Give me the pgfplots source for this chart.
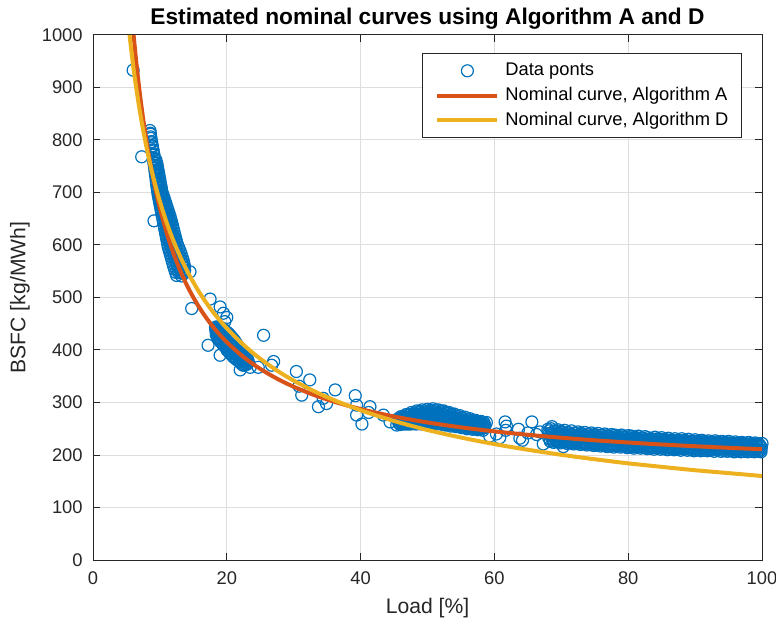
\documentclass[border=0pt]{standalone}
\usepackage{fontspec}
\setmainfont{Liberation Sans}
\usepackage{pgfplots}
\pgfplotsset{compat=1.18}
\definecolor{mblue}{rgb}{0,0.447,0.741}
\definecolor{mred}{rgb}{0.85,0.325,0.098}
\definecolor{myellow}{rgb}{0.929,0.694,0.125}
\definecolor{axgray}{rgb}{0.15,0.15,0.15}
\definecolor{gridgray}{rgb}{0.87,0.87,0.87}
\pgfplotsset{
  linelegend/.style={legend image code/.code={\draw[##1] (0bp,0bp) -- (30bp,0bp);}},
  marklegend/.style={legend image code/.code={\path[draw=none,fill=none] (0bp,-3bp) rectangle (30bp,3bp); \draw[##1] plot coordinates {(15bp,0bp)};}},
}
\begin{document}
\begin{tikzpicture}
\useasboundingbox (-46.5bp,-33.5bp) rectangle (341.5bp,280bp);
\begin{axis}[
  at={(0bp,0bp)}, anchor=south west,
  width=334.5bp, height=262.5bp, scale only axis,
  xmin=0, xmax=100, ymin=0, ymax=1000,
  xtick={0,20,...,100}, ytick={0,100,...,1000},
  grid=major, major grid style={draw=gridgray, line width=0.5bp},
  axis line style={draw=axgray, line width=0.5bp},
  tick style={draw=axgray, line width=0.5bp},
  tick align=inside, major tick length=3.35bp,
  /pgf/number format/assume math mode=true,
  /pgf/number format/1000 sep={},
  ticklabel style={font=\fontsize{9.2}{11}\selectfont, text=axgray},
  xticklabel style={anchor=base, yshift=-12bp},
  yticklabel style={anchor=east, inner sep=0pt, xshift=-5bp},
  every axis title/.style={at={(axis description cs:0.5,1.02)}, anchor=base, font=\fontsize{11.4}{13}\selectfont\bfseries},
  title={Estimated nominal curves using Algorithm A and D},
  every axis x label/.style={at={(axis description cs:0.5,-0.1019)}, anchor=base, font=\fontsize{10.6}{12}\selectfont, text=axgray},
  every axis y label/.style={at={(axis description cs:-0.1009,0.5)}, rotate=90, anchor=base, font=\fontsize{10.6}{12}\selectfont, text=axgray},
  xlabel={Load [\%]},
  ylabel={BSFC [kg/MWh]},
  clip=false, clip marker paths=true,
  legend cell align=left,
  legend style={
    at={(axis description cs:0.9701,0.9657)}, anchor=north east,
    draw=axgray, line width=0.5bp, fill=white,
    font=\fontsize{9.2}{11}\selectfont,
    inner xsep=6.5bp, inner ysep=4.15bp,
    row sep=3.35bp,
    nodes={inner sep=0pt, text height=7bp, text depth=2bp},
    /tikz/every odd column/.append style={column sep=3bp},
  },
]
\addplot[only marks, mark=o, mark size=3bp, color=mblue, mark options={line width=0.6bp}, marklegend]
coordinates {
(6.0,933) (7.28,768) (9.12,646) (14.5,549) (14.75,479) (17.5,497) (19.0,482) (19.5,470) (20.0,462) (19.7,454)
(17.2,409) (19.0,390) (25.5,428) (27.0,378) (26.7,371) (24.7,367) (23.5,367) (22.0,362) (30.4,359) (32.4,343)
(30.8,331) (31.2,314) (33.7,292) (34.9,298) (34.4,308) (36.2,324) (39.2,313) (39.4,295) (39.4,276) (40.2,259)
(41.4,292) (41.2,281) (43.4,276) (44.4,263) (45.4,257)
(58.8,262) (59.3,236) (60.3,240) (60.8,233) (61.6,263) (61.8,255) (61.7,247) (63.6,249) (63.8,232) (64.2,228)
(65.0,242) (65.6,263) (66.3,239) (66.8,244) (67.3,221) (70.3,216) (68.6,254)
(8.51,818) (8.56,813) (8.59,811) (8.62,806) (8.67,803) (8.74,797) (8.77,795) (8.85,789) (8.88,787) (8.96,781)
(9.00,779) (9.07,773) (9.11,771) (9.18,765) (9.22,763) (9.30,757) (9.33,755) (9.40,749) (9.43,747) (9.50,741)
(9.53,739) (9.60,733) (9.63,731) (9.70,725) (9.72,723) (9.79,717) (9.82,715) (9.89,709) (9.92,707) (9.99,701)
(10.03,699) (10.13,693) (10.19,691) (10.30,685) (10.36,683) (10.46,677) (10.52,675) (10.62,669) (10.68,667) (10.79,661)
(10.85,659) (10.95,653) (11.01,651) (11.10,645) (11.15,643) (11.24,637) (11.29,635) (11.38,629) (11.43,627) (11.52,621)
(11.57,619) (11.66,613) (11.71,611) (11.80,605) (11.85,603) (11.96,597) (12.05,595) (12.18,589) (12.27,587) (12.39,581)
(12.48,579) (12.61,573) (12.70,571) (12.82,565) (12.91,563) (13.02,557) (13.06,555) (13.13,549) (13.16,547) (13.23,541)
(9.08,758) (9.15,752) (9.22,746) (9.27,740) (9.33,734) (9.40,728) (9.45,722) (9.51,716) (9.57,710) (9.64,704)
(9.70,698) (9.79,692) (9.88,686) (9.97,680) (10.06,674) (10.15,668) (10.25,662) (10.34,656) (10.43,650) (10.52,644)
(10.62,638) (10.70,632) (10.80,626) (10.88,620) (10.98,614) (11.07,608) (11.16,602) (11.25,596) (11.38,590) (11.52,584)
(11.65,578) (11.78,572) (11.91,566) (12.04,560) (12.20,554) (12.34,548) (12.50,542)
(9.40,762) (9.53,756) (9.62,750) (9.71,744) (9.79,738) (9.88,732) (9.97,726) (10.05,720) (10.13,714) (10.22,708)
(10.30,702) (10.45,696) (10.62,690) (10.77,684) (10.92,678) (11.07,672) (11.23,666) (11.38,660) (11.53,654) (11.66,648)
(11.78,642) (11.90,636) (12.02,630) (12.14,624) (12.26,618) (12.37,612) (12.50,606) (12.65,600) (12.84,594) (13.04,588)
(13.20,582) (13.35,576) (13.50,570) (13.60,564) (13.70,558) (13.70,552) (13.60,546)
(9.90,697) (10.00,691) (10.12,685) (10.22,679) (10.33,673) (10.43,667) (10.55,661) (10.65,655) (10.76,649) (10.86,643)
(10.96,637) (11.05,631) (11.15,625) (11.25,619) (11.35,613) (11.44,607) (11.54,601) (11.68,595) (11.82,589) (11.97,583)
(12.12,577) (12.27,571) (12.42,565) (12.58,559) (12.70,553) (12.82,547)
(10.22,697) (10.36,691) (10.50,685) (10.64,679) (10.78,673) (10.91,667) (11.06,661) (11.19,655) (11.32,649) (11.43,643)
(11.55,637) (11.65,631) (11.77,625) (11.88,619) (11.99,613) (12.10,607) (12.22,601) (12.39,595) (12.56,589) (12.75,583)
(12.92,577) (13.10,571) (13.27,565) (13.42,559) (13.50,553) (13.52,547)
(18.3,443) (18.5,444) (18.7,443) (18.9,443) (19.1,442) (19.3,441) (19.5,440) (19.7,437) (19.9,435) (20.1,433)
(20.3,431) (20.5,428) (20.7,425) (20.9,422) (21.1,419) (21.3,415) (21.5,411) (21.7,408) (21.9,405) (22.1,401)
(22.3,397) (22.5,394) (22.7,389) (22.9,386) (23.1,382)
(18.37,437) (18.57,433) (18.77,434) (18.97,429) (19.17,430) (19.37,425) (19.57,426) (19.77,420) (19.97,420) (20.17,414)
(20.37,414) (20.57,408) (20.77,409) (20.97,402) (21.17,403) (21.37,397) (21.57,398) (21.77,392) (21.97,392) (22.17,387)
(22.37,387) (22.57,382) (22.77,383) (22.97,379) (23.17,380)
(18.43,429) (18.63,423) (18.83,421) (19.03,416) (19.23,414) (19.43,410) (19.63,408) (19.83,405) (20.03,400) (20.23,398)
(20.43,394) (20.63,393) (20.83,389) (21.03,386) (21.23,385) (21.43,382) (21.63,381) (21.83,379) (22.03,377) (22.23,373)
(22.43,371) (22.63,371) (22.83,372) (23.03,373) (23.23,376)
(18.4,439) (18.8,437) (19.2,435) (19.6,430) (20.0,426) (20.4,420) (20.8,414) (21.2,409) (21.6,402) (22.0,396) (22.4,390) (22.8,385)
(18.45,432) (18.85,423) (19.25,419) (19.65,414) (20.05,409) (20.45,402) (20.85,397) (21.25,393) (21.65,388) (22.05,384) (22.45,379) (22.85,378)
(45.6,269) (46.0,273) (46.4,274) (46.8,277) (47.2,277) (47.6,281) (48.0,280) (48.4,284) (48.8,283) (49.2,286)
(49.6,284) (50.0,287) (50.4,285) (50.8,288) (51.2,285) (51.6,286) (52.0,284) (52.4,284) (52.8,281) (53.2,281)
(53.6,278) (54.0,278) (54.4,274) (54.8,275) (55.2,271) (55.6,272) (56.0,268) (56.4,269) (56.8,266) (57.2,266)
(57.6,263) (58.0,264) (58.4,261)
(45.65,268) (46.05,269) (46.45,272) (46.85,272) (47.25,276) (47.65,275) (48.05,278) (48.45,278) (48.85,281) (49.25,280)
(49.65,282) (50.05,281) (50.45,283) (50.85,281) (51.25,282) (51.65,280) (52.05,282) (52.45,278) (52.85,279) (53.25,275)
(53.65,276) (54.05,272) (54.45,273) (54.85,269) (55.25,270) (55.65,266) (56.05,267) (56.45,264) (56.85,265) (57.25,262)
(57.65,263) (58.05,260) (58.45,261)
(45.8,266) (46.2,268) (46.6,270) (47.0,271) (47.4,273) (47.8,273) (48.2,275) (48.6,275) (49.0,277) (49.4,276)
(49.8,278) (50.2,277) (50.6,278) (51.0,276) (51.4,278) (51.8,276) (52.2,276) (52.6,274) (53.0,273) (53.4,272)
(53.8,270) (54.2,269) (54.6,267) (55.0,266) (55.4,264) (55.8,264) (56.2,262) (56.6,261) (57.0,260) (57.4,260)
(57.8,258) (58.2,258) (58.6,256)
(45.75,264) (46.15,266) (46.55,267) (46.95,268) (47.35,269) (47.75,270) (48.15,270) (48.55,271) (48.95,272) (49.35,272)
(49.75,273) (50.15,273) (50.55,273) (50.95,273) (51.35,273) (51.75,272) (52.15,272) (52.55,270) (52.95,269) (53.35,268)
(53.75,267) (54.15,266) (54.55,264) (54.95,263) (55.35,262) (55.75,261) (56.15,260) (56.55,259) (56.95,258) (57.35,257)
(57.75,256) (58.15,256) (58.55,255)
(45.7,261) (46.1,262) (46.5,264) (46.9,264) (47.3,266) (47.7,265) (48.1,267) (48.5,266) (48.9,268) (49.3,267)
(49.7,269) (50.1,268) (50.5,269) (50.9,268) (51.3,269) (51.7,267) (52.1,268) (52.5,266) (52.9,265) (53.3,264)
(53.7,263) (54.1,262) (54.5,261) (54.9,260) (55.3,259) (55.7,258) (56.1,257) (56.5,257) (56.9,255) (57.3,256)
(57.7,254) (58.1,254) (58.5,252)
(45.85,260) (46.25,261) (46.65,261) (47.05,262) (47.45,262) (47.85,262) (48.25,263) (48.65,263) (49.05,263) (49.45,264)
(49.85,264) (50.25,264) (50.65,264) (51.05,264) (51.45,264) (51.85,263) (52.25,262) (52.65,261) (53.05,260) (53.45,259)
(53.85,258) (54.25,257) (54.65,256) (55.05,255) (55.45,254) (55.85,254) (56.25,253) (56.65,253) (57.05,252) (57.45,252)
(57.85,251) (58.25,251)
(45.9,258) (46.3,259) (46.7,259) (47.1,259) (47.5,259) (47.9,260) (48.3,259) (48.7,260) (49.1,259) (49.5,260)
(49.9,260) (50.3,261) (50.7,259) (51.1,261) (51.5,259) (51.9,260) (52.3,258) (52.7,257) (53.1,257) (53.5,255)
(53.9,256) (54.3,254) (54.7,254) (55.1,252) (55.5,252) (55.9,250) (56.3,251) (56.7,249) (57.1,250) (57.5,248)
(57.9,249) (58.3,247)
(68.0,249) (68.5,250) (69.0,246) (69.5,248) (70.0,245) (70.5,247) (71.0,243) (71.5,246) (72.0,242) (72.5,244)
(73.0,241) (73.5,243) (74.0,240) (74.5,242) (75.0,239) (75.5,241) (76.0,238) (76.5,240) (77.0,237) (77.5,239)
(78.0,238) (78.5,236) (79.0,238) (79.5,235) (80.0,237) (80.5,236) (81.0,234) (81.5,236) (82.0,233) (82.5,235)
(83.0,233) (83.5,231) (84.0,234) (84.5,231) (85.0,233) (85.5,230) (86.0,232) (86.5,229) (87.0,231) (87.5,228)
(88.0,231) (88.5,228) (89.0,230) (89.5,227) (90.0,229) (90.5,226) (91.0,228) (91.5,226) (92.0,227) (92.5,225)
(93.0,227) (93.5,224) (94.0,226) (94.5,224) (95.0,226) (95.5,223) (96.0,225) (96.5,223) (97.0,224) (97.5,222)
(98.0,224) (98.5,222) (99.0,223) (99.5,221) (100.0,222)
(68.15,246) (68.65,243) (69.15,244) (69.65,242) (70.15,243) (70.65,240) (71.15,242) (71.65,239) (72.15,241) (72.65,238)
(73.15,240) (73.65,237) (74.15,239) (74.65,236) (75.15,238) (75.65,235) (76.15,237) (76.65,234) (77.15,236) (77.65,233)
(78.15,235) (78.65,232) (79.15,234) (79.65,231) (80.15,233) (80.65,231) (81.15,232) (81.65,230) (82.15,231) (82.65,229)
(83.15,230) (83.65,228) (84.15,230) (84.65,227) (85.15,229) (85.65,227) (86.15,228) (86.65,226) (87.15,227) (87.65,225)
(88.15,227) (88.65,225) (89.15,226) (89.65,224) (90.15,225) (90.65,223) (91.15,225) (91.65,223) (92.15,224) (92.65,222)
(93.15,224) (93.65,222) (94.15,223) (94.65,221) (95.15,223) (95.65,221) (96.15,222) (96.65,220) (97.15,222) (97.65,220)
(98.15,221) (98.65,219) (99.15,221) (99.65,219)
(68.25,241) (68.75,239) (69.25,240) (69.75,238) (70.25,239) (70.75,237) (71.25,238) (71.75,235) (72.25,237) (72.75,234)
(73.25,236) (73.75,233) (74.25,235) (74.75,232) (75.25,234) (75.75,231) (76.25,233) (76.75,230) (77.25,232) (77.75,230)
(78.25,231) (78.75,229) (79.25,230) (79.75,228) (80.25,230) (80.75,227) (81.25,229) (81.75,226) (82.25,228) (82.75,226)
(83.25,227) (83.75,225) (84.25,227) (84.75,224) (85.25,226) (85.75,224) (86.25,225) (86.75,223) (87.25,225) (87.75,222)
(88.25,224) (88.75,222) (89.25,223) (89.75,221) (90.25,223) (90.75,220) (91.25,222) (91.75,220) (92.25,221) (92.75,219)
(93.25,221) (93.75,219) (94.25,220) (94.75,218) (95.25,220) (95.75,218) (96.25,219) (96.75,217) (97.25,219) (97.75,217)
(98.25,218) (98.75,216) (99.25,218) (99.75,217)
(68.4,237) (68.9,235) (69.4,236) (69.9,234) (70.4,235) (70.9,233) (71.4,234) (71.9,232) (72.4,233) (72.9,231)
(73.4,232) (73.9,230) (74.4,231) (74.9,229) (75.4,230) (75.9,228) (76.4,229) (76.9,227) (77.4,228) (77.9,227)
(78.4,228) (78.9,226) (79.4,227) (79.9,225) (80.4,226) (80.9,224) (81.4,225) (81.9,223) (82.4,225) (82.9,223)
(83.4,224) (83.9,222) (84.4,223) (84.9,221) (85.4,222) (85.9,221) (86.4,222) (86.9,220) (87.4,221) (87.9,219)
(88.4,220) (88.9,219) (89.4,220) (89.9,218) (90.4,219) (90.9,218) (91.4,219) (91.9,217) (92.4,218) (92.9,217)
(93.4,218) (93.9,216) (94.4,217) (94.9,216) (95.4,217) (95.9,215) (96.4,216) (96.9,215) (97.4,216) (97.9,215)
(98.4,216) (98.9,214) (99.4,215) (99.9,214)
(68.1,233) (68.6,231) (69.1,232) (69.6,230) (70.1,231) (70.6,229) (71.1,230) (71.6,228) (72.1,229) (72.6,227)
(73.1,228) (73.6,226) (74.1,227) (74.6,225) (75.1,226) (75.6,224) (76.1,225) (76.6,223) (77.1,224) (77.6,222)
(78.1,223) (78.6,222) (79.1,223) (79.6,221) (80.1,222) (80.6,220) (81.1,221) (81.6,219) (82.1,221) (82.6,219)
(83.1,220) (83.6,218) (84.1,219) (84.6,217) (85.1,219) (85.6,217) (86.1,218) (86.6,216) (87.1,217) (87.6,216)
(88.1,217) (88.6,215) (89.1,216) (89.6,214) (90.1,216) (90.6,214) (91.1,215) (91.6,213) (92.1,215) (92.6,213)
(93.1,214) (93.6,213) (94.1,214) (94.6,212) (95.1,213) (95.6,212) (96.1,213) (96.6,211) (97.1,213) (97.6,211)
(98.1,212) (98.6,211) (99.1,212) (99.6,210)
(68.3,230) (68.8,227) (69.3,228) (69.8,226) (70.3,227) (70.8,225) (71.3,226) (71.8,224) (72.3,225) (72.8,223)
(73.3,224) (73.8,222) (74.3,223) (74.8,221) (75.3,222) (75.8,220) (76.3,221) (76.8,219) (77.3,220) (77.8,219)
(78.3,220) (78.8,218) (79.3,219) (79.8,217) (80.3,218) (80.8,216) (81.3,218) (81.8,216) (82.3,217) (82.8,215)
(83.3,217) (83.8,215) (84.3,216) (84.8,214) (85.3,216) (85.8,214) (86.3,215) (86.8,213) (87.3,215) (87.8,213)
(88.3,214) (88.8,213) (89.3,214) (89.8,212) (90.3,214) (90.8,212) (91.3,213) (91.8,212) (92.3,213) (92.8,211)
(93.3,213) (93.8,211) (94.3,212) (94.8,211) (95.3,212) (95.8,210) (96.3,212) (96.8,210) (97.3,211) (97.8,210)
(98.3,211) (98.8,209) (99.3,211) (99.8,209)
(68.35,226) (68.85,224) (69.35,225) (69.85,223) (70.35,224) (70.85,222) (71.35,223) (71.85,221) (72.35,222) (72.85,220)
(73.35,221) (73.85,219) (74.35,220) (74.85,218) (75.35,219) (75.85,217) (76.35,218) (76.85,216) (77.35,217) (77.85,215)
(78.35,217) (78.85,215) (79.35,216) (79.85,214) (80.35,215) (80.85,213) (81.35,215) (81.85,213) (82.35,214) (82.85,212)
(83.35,213) (83.85,211) (84.35,213) (84.85,211) (85.35,212) (85.85,210) (86.35,212) (86.85,210) (87.35,211) (87.85,209)
(88.35,211) (88.85,209) (89.35,210) (89.85,208) (90.35,210) (90.85,208) (91.35,209) (91.85,208) (92.35,209) (92.85,207)
(93.35,209) (93.85,207) (94.35,208) (94.85,207) (95.35,208) (95.85,206) (96.35,208) (96.85,206) (97.35,207) (97.85,206)
(98.35,207) (98.85,206) (99.35,207) (99.85,206)
};
\addlegendentry{Data ponts}
\addplot[mred, line width=2bp, smooth, linelegend]
coordinates {
(6.071,1000) (6.5,944.6) (7,888.6) (7.5,840) (8,797.5) (8.5,760) (9,726.7) (9.5,696.8) (10,670) (11,623.6)
(12,585) (13,552.3) (14,524.3) (15,500) (16,478.8) (17,460) (18,443.3) (19,428.4) (20,415) (22,391.8)
(24,372.5) (26,356.2) (28,342.1) (30,330) (33,314.5) (36,301.7) (40,287.5) (45,273.3) (50,262) (55,252.7)
(60,245) (65,238.5) (70,232.9) (75,228) (80,223.8) (85,220) (90,216.7) (95,213.7) (100,211)
};
\addlegendentry{Nominal curve, Algorithm A}
\addplot[myellow, line width=2bp, smooth, linelegend]
coordinates {
(5.46,1000) (6,942.1) (6.5,895.8) (7,855) (7.5,818.6) (8,785.9) (8.5,756.5) (9,729.7) (9.5,705.3) (10,682.8)
(11,642.9) (12,608.8) (13,578.8) (14,552.3) (15,529) (16,507.7) (17,488.8) (18,471.3) (19,455.9) (20,441.3)
(22,415.7) (24,393.3) (26,374) (28,356.8) (30,341.7) (33,321.9) (36,304.7) (40,285.2) (45,264.8) (50,247.6)
(55,233.3) (60,220.8) (65,210) (70,200.4) (75,191.9) (80,184.1) (85,177.4) (90,171) (95,165.5) (100,160)
};
\addlegendentry{Nominal curve, Algorithm D}
\end{axis}
\end{tikzpicture}
\end{document}
